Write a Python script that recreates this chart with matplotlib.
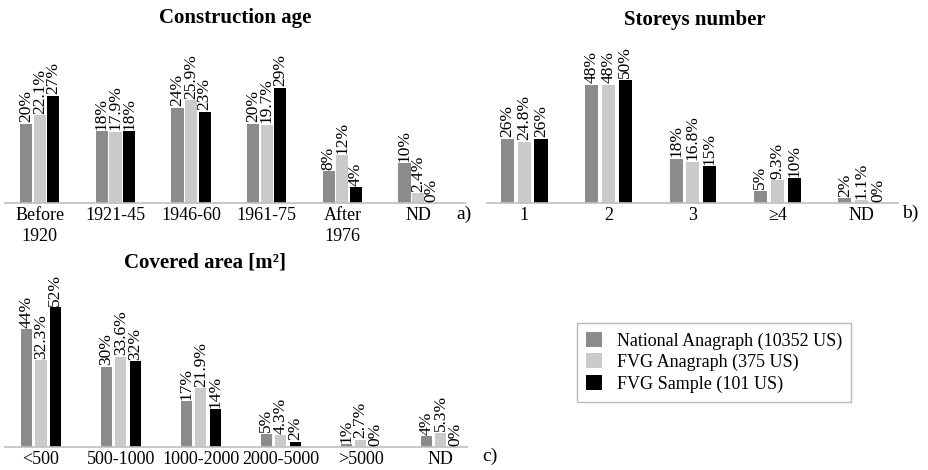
import matplotlib.pyplot as plt
import numpy as np

plt.rcParams['font.family'] = ['Liberation Serif', 'DejaVu Serif']

series_names = ["National Anagraph (10352 US)", "FVG Anagraph (375 US)", "FVG Sample (101 US)"]
colors = ["#8c8c8c", "#cacaca", "#000000"]

# a) construction age
age_cats = ["Before\n1920", "1921-45", "1946-60", "1961-75", "After\n1976", "ND"]
age_nat = [20, 18, 24, 20, 8, 10]
age_fvg = [22.1, 17.9, 25.9, 19.7, 12, 2.4]
age_smp = [27, 18, 23, 29, 4, 0]

# b) storeys number
st_cats = ["1", "2", "3", "\u22654", "ND"]
st_nat = [26, 48, 18, 5, 2]
st_fvg = [24.8, 48, 16.8, 9.3, 1.1]
st_smp = [26, 50, 15, 10, 0]

# c) covered area
ar_cats = ["<500", "500-1000", "1000-2000", "2000-5000", ">5000", "ND"]
ar_nat = [44, 30, 17, 5, 1, 4]
ar_fvg = [32.3, 33.6, 21.9, 4.3, 2.7, 5.3]
ar_smp = [52, 32, 14, 2, 0, 0]

W, H = 929, 470
fig = plt.figure(figsize=(W / 100, H / 100), dpi=100)


def px_axes(x0, x1, y_top, y_base):
    return fig.add_axes([x0 / W, 1 - y_base / H, (x1 - x0) / W, (y_base - y_top) / H])


def draw(ax, cats, data, ymax, xlim, width, step):
    x = np.arange(len(cats))
    for k, vals in enumerate(data):
        pos = x + (k - 1) * step
        bars = ax.bar(pos, vals, width, color=colors[k], label=series_names[k])
        for b, v in zip(bars, vals):
            ax.annotate("{:g}%".format(v), (b.get_x() + b.get_width() / 2, b.get_height()),
                        xytext=(0, 1), textcoords="offset points", rotation=90,
                        ha="center", va="bottom", fontsize=12.5, clip_on=False,
                        annotation_clip=False)
    ax.set_ylim(0, ymax)
    ax.set_xlim(*xlim)
    ax.set_xticks(x)
    ax.set_xticklabels(cats, fontsize=13, linespacing=1.3)
    ax.tick_params(axis="x", length=0, pad=3)
    ax.set_yticks([])
    for s in ["top", "left", "right"]:
        ax.spines[s].set_visible(False)
    ax.spines["bottom"].set_color("#bfbfbf")
    ax.spines["bottom"].set_linewidth(1.2)


ax1 = px_axes(5, 465, 44, 203)
draw(ax1, age_cats, [age_nat, age_fvg, age_smp], 40, (-0.46, 5.62), 0.16, 0.18)

ax2 = px_axes(487, 898, 55, 203)
draw(ax2, st_cats, [st_nat, st_fvg, st_smp], 60, (-0.44, 4.43), 0.155, 0.2)

ax3 = px_axes(5, 467, 286, 447)
draw(ax3, ar_cats, [ar_nat, ar_fvg, ar_smp], 60, (-0.45, 5.33), 0.14, 0.18)

fig.text(235 / W, 1 - 18 / H, "Construction age", ha="center", va="center",
         fontsize=15, fontweight="bold")
fig.text(695 / W, 1 - 20 / H, "Storeys number", ha="center", va="center",
         fontsize=15, fontweight="bold")
fig.text(205 / W, 1 - 262 / H, "Covered area [m\u00b2]", ha="center", va="center",
         fontsize=15, fontweight="bold")

fig.text(464 / W, 1 - 214 / H, "a)", ha="center", va="center", fontsize=14)
fig.text(910 / W, 1 - 213 / H, "b)", ha="center", va="center", fontsize=14)
fig.text(490 / W, 1 - 456 / H, "c)", ha="center", va="center", fontsize=14)

handles, labels = ax1.get_legend_handles_labels()
leg = fig.legend(handles, labels, loc="upper left", bbox_to_anchor=(577 / W, 1 - 323 / H),
                 fontsize=13, frameon=True, fancybox=False, edgecolor="#aaaaaa",
                 handlelength=0.9, handleheight=0.9, handletextpad=0.8,
                 labelspacing=0.2, borderpad=0.5, borderaxespad=0)
leg.get_frame().set_linewidth(1.0)

fig.savefig("out.png", dpi=100)
